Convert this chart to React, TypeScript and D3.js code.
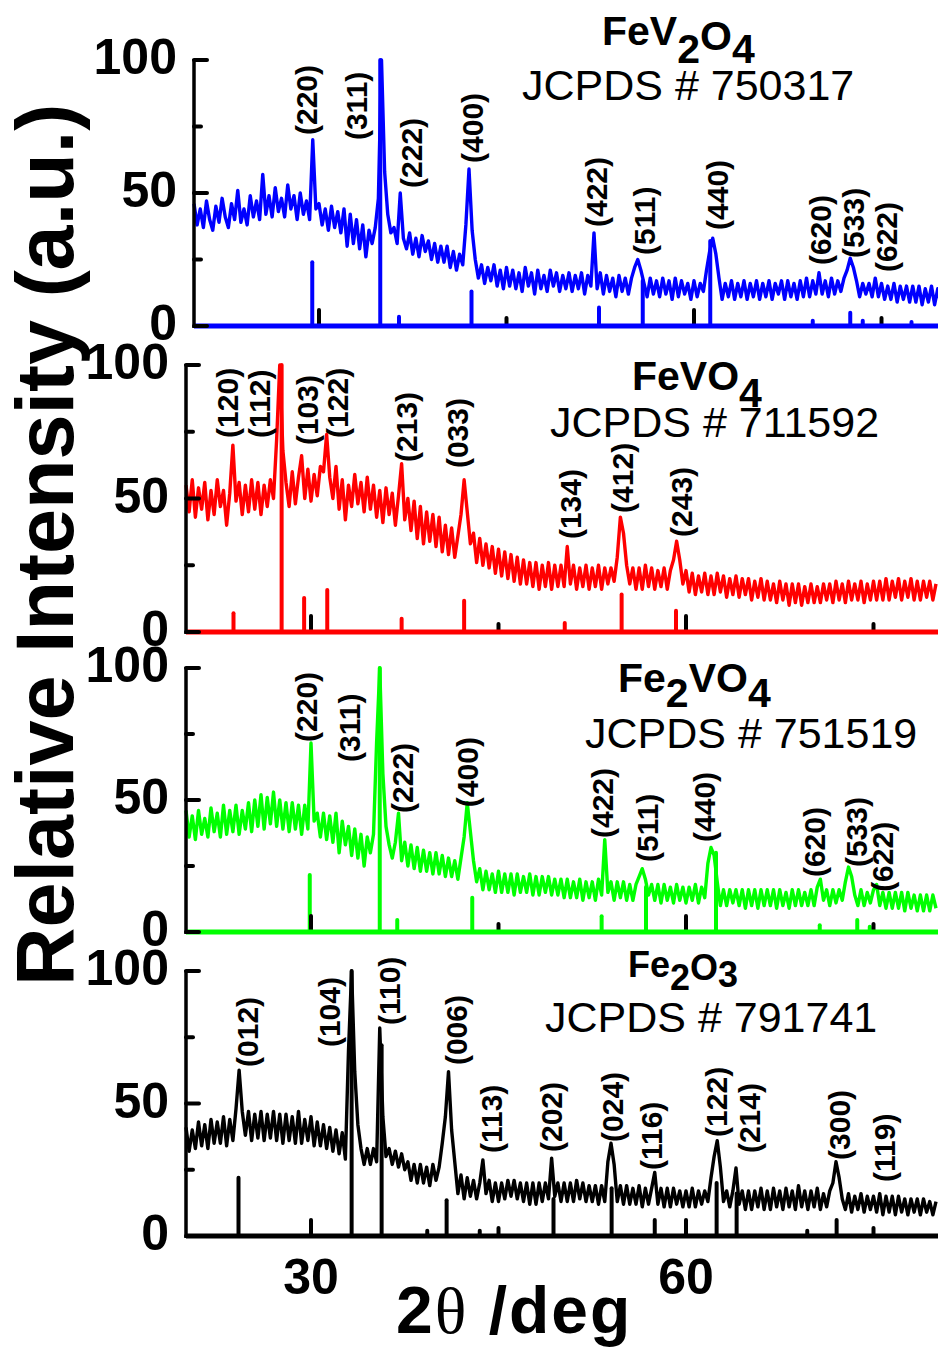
import React from 'react';
import * as d3 from 'd3';

// Diffraction scans sampled every 0.25° from 2θ = 20° to 80° (241 points each)
const SCAN_START = 20;
const SCAN_STEP = 0.25;

const fev2o4Counts = [
  46, 38, 44, 37, 47, 40, 36, 45, 39, 48, 41, 37, 46, 40, 51, 39, 44, 38, 49, 41,
  47, 40, 57, 42, 49, 41, 52, 43, 48, 41, 53, 44, 49, 40, 50, 42, 47, 40, 70, 44,
  46, 38, 44, 36, 45, 37, 43, 35, 44, 30, 42, 31, 40, 29, 38, 26, 36, 31, 37, 48,
  100, 58, 42, 35, 37, 31, 50, 33, 29, 35, 27, 33, 26, 34, 28, 32, 25, 31, 24, 30,
  24, 30, 22, 28, 21, 27, 23, 38, 59, 36, 25, 18, 23, 16, 22, 17, 23, 15, 21, 14,
  22, 15, 21, 14, 20, 13, 22, 15, 20, 12, 21, 14, 19, 13, 21, 15, 20, 13, 19, 14,
  20, 13, 19, 14, 20, 12, 19, 15, 35, 14, 20, 12, 19, 13, 18, 11, 19, 13, 18, 12,
  18, 22, 25, 21, 16, 11, 18, 12, 17, 11, 18, 12, 17, 10, 18, 11, 17, 12, 16, 10,
  17, 11, 16, 13, 21, 28, 33, 27, 18, 10, 16, 11, 17, 10, 16, 11, 17, 10, 16, 11,
  17, 10, 16, 11, 17, 10, 16, 12, 17, 10, 17, 11, 16, 10, 17, 11, 18, 11, 17, 12,
  20, 12, 17, 11, 18, 12, 17, 13, 18, 21, 25.5, 22, 17, 11, 16, 12, 16, 11, 18, 11,
  16, 10, 15, 10, 16, 9, 15, 10, 15, 9, 15, 9, 15, 8, 14, 9, 15, 8, 14, 8,
  13,
];

const fevo4Counts = [
  55, 45, 57, 43, 54, 46, 56, 42, 53, 44, 57, 47, 53, 40, 52, 70, 49, 56, 44, 55,
  45, 57, 46, 56, 44, 55, 47, 57, 50, 72, 100, 68, 56, 47, 60, 48, 58, 66, 50, 61,
  49, 59, 51, 62, 60, 74, 58, 50, 62, 46, 57, 42, 55, 47, 59, 48, 56, 45, 58, 46,
  55, 43, 53, 41, 54, 44, 52, 40, 51, 63, 42, 50, 38, 49, 35, 47, 33, 45, 34, 44,
  32, 43, 30, 40, 29, 39, 28, 36, 44, 57, 45, 33, 37, 26, 35, 25, 33, 24, 32, 22,
  31, 21, 30, 20, 29, 19, 28, 18, 27, 18, 26, 17, 26, 16, 25, 17, 26, 16, 25, 17,
  25, 17, 32, 18, 25, 16, 24, 17, 25, 16, 24, 17, 25, 16, 24, 18, 24, 19, 28, 43,
  37, 25, 18, 24, 16, 24, 16, 25, 17, 24, 16, 23, 17, 24, 16, 23, 27, 34, 27, 18,
  23, 15, 22, 14, 21, 15, 22, 14, 21, 14, 22, 15, 21, 13, 20, 14, 21, 13, 20, 14,
  20, 12, 19, 13, 20, 12, 19, 12, 18, 11, 19, 12, 18, 10, 18, 11, 18, 10, 17, 11,
  18, 11, 17, 11, 18, 12, 18, 11, 19, 12, 18, 11, 19, 12, 18, 12, 19, 11, 18, 12,
  19, 12, 19, 12, 20, 12, 19, 13, 20, 12, 19, 13, 20, 12, 19, 12, 19, 13, 19, 12,
  18,
];

const fe2vo4Counts = [
  46, 36, 44, 35, 46, 37, 43, 36, 47, 38, 45, 36, 48, 37, 46, 38, 48, 37, 46, 39,
  49, 38, 50, 40, 52, 39, 51, 41, 53, 40, 50, 39, 49, 38, 49, 39, 48, 37, 48, 39,
  71.6, 42, 45, 36, 45, 35, 44, 34, 45, 30, 42, 33, 40, 29, 39, 28, 37, 25, 36, 30,
  37, 72, 100, 60, 40, 33, 28, 34, 45, 27, 34, 25, 33, 24, 32, 23, 31, 23, 30, 22,
  30, 22, 29, 21, 28, 21, 27, 20, 28, 36, 49, 38, 27, 19, 24, 16, 23, 16, 22, 15,
  23, 15, 22, 15, 22, 14, 22, 15, 21, 15, 22, 14, 21, 14, 21, 15, 21, 14, 20, 14,
  20, 13, 20, 13, 19, 13, 20, 12, 19, 13, 19, 12, 20, 14, 35, 15, 19, 12, 19, 13,
  19, 12, 18, 12, 18, 21, 24, 20, 14, 18, 12, 18, 11, 18, 12, 17, 11, 18, 12, 17,
  11, 17, 12, 18, 11, 17, 13, 26, 32, 29, 19, 10, 16, 10, 16, 11, 16, 10, 16, 9,
  16, 10, 16, 9, 16, 10, 16, 10, 16, 9, 16, 10, 15, 9, 16, 10, 16, 10, 15, 10,
  16, 10, 17, 20, 12, 16, 10, 16, 11, 16, 12, 19, 24.6, 21, 14, 10, 16, 10, 15, 11,
  16, 18, 10, 15, 9, 15, 9, 15, 9, 15, 8, 15, 9, 14, 8, 14, 8, 14, 8, 14,
  9,
];

const fe2o3Counts = [
  41, 32, 40, 33, 43, 34, 42, 33, 44, 35, 43, 35, 45, 34, 44, 36, 48, 62.6, 47, 38,
  47, 36, 46, 37, 47, 36, 46, 37, 47, 36, 46, 35, 46, 36, 45, 35, 47, 35, 44, 36,
  45, 34, 43, 34, 42, 33, 41, 32, 40, 31, 39, 29, 70, 100, 62, 42, 33, 27, 33, 27,
  33, 28, 78.5, 45, 30, 33, 27, 32, 26, 31, 25, 28, 21, 27, 20, 27, 20, 26, 19, 27,
  21, 26, 35, 45, 62, 40, 28, 16, 23, 14, 22, 15, 21, 14, 20, 28.7, 16, 21, 13, 20,
  13, 20, 14, 21, 15, 21, 14, 20, 13, 20, 12, 20, 12, 20, 13, 20, 14, 29.4, 15, 20,
  13, 20, 13, 20, 13, 21, 14, 20, 13, 19, 13, 19, 12, 19, 13, 28, 35, 27, 13, 19,
  12, 19, 12, 18, 12, 19, 11, 18, 12, 18, 24, 12, 18, 11, 18, 11, 18, 12, 17, 11,
  17, 11, 18, 11, 17, 12, 17, 13, 22, 30, 36, 26, 13, 17, 11, 17, 25.7, 12, 17, 10,
  17, 10, 17, 11, 18, 10, 17, 10, 18, 11, 17, 10, 18, 11, 17, 10, 19, 11, 17, 10,
  17, 11, 18, 10, 16, 11, 17, 20, 28, 22, 14, 10, 16, 9, 15, 10, 16, 9, 15, 10,
  15, 9, 16, 8, 15, 9, 15, 8, 15, 9, 14, 8, 14, 9, 14, 8, 14, 9, 13, 8,
  13,
];

// Reference card lines: [2θ, relative intensity]
const fev2o4Card = [[29.46, 24], [34.9, 100], [36.4, 3.5], [42.2, 13], [52.4, 7], [55.9, 17], [61.3, 32], [69.5, 2], [72.5, 5], [73.5, 2], [77.4, 1.5]];
const fevo4Card = [[23.8, 7], [27.65, 100], [29.45, 12.7], [31.3, 15.7], [37.25, 5], [42.25, 11.7], [50.3, 3.4], [54.85, 14], [59.2, 8]];
const fe2vo4Card = [[29.9, 21.6], [35.5, 100], [36.9, 4.5], [42.9, 13], [53.25, 6], [56.8, 17], [62.4, 30], [70.7, 2.6], [73.7, 4.5], [74.7, 2]];
const fe2o3Card = [[24.2, 22], [33.25, 100], [35.65, 72], [39.3, 2], [40.85, 13.5], [43.5, 2], [49.4, 14], [54.05, 18], [57.5, 6], [62.45, 20], [64.05, 16], [69.7, 2], [72.05, 6]];

// Miller indices: [label, 2θ, intensity level where the label starts]
const fev2o4Hkl = [['(220)', 29.0, 71.8], ['(311)', 32.96, 69.9], ['(222)', 37.36, 51.9], ['(400)', 42.28, 61.3], ['(422)', 52.16, 37.2], ['(511)', 56.0, 26.7], ['(440)', 61.88, 36.1], ['(620)', 70.08, 22.9], ['(533)', 72.72, 25.6], ['(622)', 75.36, 20.3]];
const fevo4Hkl = [['(120)', 23.32, 72.7], ['(112)', 25.84, 72.7], ['(103)', 29.72, 70.0], ['(122)', 32.12, 72.7], ['(213)', 37.6, 63.7], ['(033)', 41.72, 61.4], ['(134)', 50.72, 34.8], ['(412)', 54.92, 44.6], ['(243)', 59.6, 35.6]];
const fe2vo4Hkl = [['(220)', 29.6, 72.0], ['(311)', 33.04, 64.4], ['(222)', 37.32, 45.1], ['(400)', 42.52, 47.3], ['(422)', 53.32, 35.6], ['(511)', 56.92, 26.5], ['(440)', 61.44, 34.1], ['(620)', 70.24, 20.8], ['(533)', 73.6, 24.6], ['(622)', 75.72, 15.2]];
const fe2o3Hkl = [['(012)', 24.92, 63.8], ['(104)', 31.44, 71.3], ['(110)', 36.24, 79.6], ['(006)', 41.6, 64.5], ['(113)', 44.4, 31.3], ['(202)', 49.2, 31.7], ['(024)', 54.12, 35.5], ['(116)', 57.2, 24.9], ['(122)', 62.4, 37.4], ['(214)', 65.04, 31.3], ['(300)', 72.24, 28.7], ['(119)', 75.84, 20.4]];

const yTickValues = [0, 25, 50, 75, 100];
const yTickLabels = ['0', '50', '100'];
const xTickValues = [30, 45, 60, 75];
const xTickLabels = ['30', '60'];

const SANS = "'Liberation Sans', Arial, Helvetica, sans-serif";
const SERIF = "'Liberation Serif', 'Times New Roman', serif";

const panels = [
  {
    id: 'fev2o4', color: '#0000ff', counts: fev2o4Counts, card: fev2o4Card, hkl: fev2o4Hkl,
    formula: [['FeV', 0], ['2', 18], ['O', 5], ['4', 18]], formulaX: 602, formulaY: 45, formulaSize: 41,
    jcpds: 'JCPDS # 750317', jcpdsX: 522, jcpdsY: 100,
    y0: 326, y100: 60, dx: 8,
  },
  {
    id: 'fevo4', color: '#ff0000', counts: fevo4Counts, card: fevo4Card, hkl: fevo4Hkl,
    formula: [['FeVO', 0], ['4', 17]], formulaX: 632, formulaY: 390, formulaSize: 41,
    jcpds: 'JCPDS # 711592', jcpdsX: 550, jcpdsY: 437,
    y0: 632, y100: 365, dx: 0,
  },
  {
    id: 'fe2vo4', color: '#00ff00', counts: fe2vo4Counts, card: fe2vo4Card, hkl: fe2vo4Hkl,
    formula: [['Fe', 0], ['2', 15], ['VO', 0], ['4', 15]], formulaX: 618, formulaY: 692, formulaSize: 41,
    jcpds: 'JCPDS # 751519', jcpdsX: 585, jcpdsY: 748,
    y0: 932, y100: 668, dx: 0,
  },
  {
    id: 'fe2o3', color: '#000000', counts: fe2o3Counts, card: fe2o3Card, hkl: fe2o3Hkl,
    formula: [['Fe', 0], ['2', 13], ['O', 3], ['3', 10]], formulaX: 628, formulaY: 977, formulaSize: 36,
    jcpds: 'JCPDS # 791741', jcpdsX: 545, jcpdsY: 1032,
    y0: 1236, y100: 971, dx: 0,
  },
];

const W = 938;
const H = 1355;

function makeX(dx: number) {
  return d3.scaleLinear().domain([20, 80]).range([186 + dx, 936 + dx]);
}

function Panel({ p }: { p: any }) {
  const x = makeX(p.dx);
  const y = d3.scaleLinear().domain([0, 100]).range([p.y0, p.y100]);
  const pts: [number, number][] = p.counts.map((v: number, i: number) => [SCAN_START + i * SCAN_STEP, v]);
  const line = d3.line<[number, number]>().x((d) => x(d[0])).y((d) => y(d[1]));
  const ax = x(20);

  return (
    <g>
      <path d={line(pts) || ''} fill="none" stroke={p.color} strokeWidth={3.4} strokeLinejoin="round" />
      {p.card.map(([t, h]: number[], i: number) => (
        <line key={'c' + i} x1={x(t)} x2={x(t)} y1={y(0)} y2={y(h)} stroke={p.color} strokeWidth={4} strokeLinecap="round" />
      ))}
      {xTickValues.map((t) => (
        <line key={'xt' + t} x1={x(t)} x2={x(t)} y1={y(0)} y2={y(0) - (t % 30 === 0 ? 16 : 8)} stroke="#000" strokeWidth={4} strokeLinecap="round" />
      ))}
      <line x1={ax} x2={W} y1={y(0)} y2={y(0)} stroke={p.color} strokeWidth={5} />
      <line x1={ax} x2={ax} y1={y(100) - 1} y2={y(0) + 2} stroke="#000" strokeWidth={3.5} />
      {yTickValues.map((v) => (
        <line key={'yt' + v} x1={ax} x2={ax + (v % 50 === 0 ? 13 : 7)} y1={y(v)} y2={y(v)} stroke="#000" strokeWidth={4} strokeLinecap="round" />
      ))}
      {yTickLabels.map((s) => (
        <text key={'yl' + s} x={ax - 17} y={y(+s) + 14} textAnchor="end" fontSize={50} fontWeight="bold" fontFamily={SANS}>{s}</text>
      ))}
      {p.hkl.map(([s, t, v]: any[], i: number) => (
        <text key={'h' + i} transform={`translate(${x(t)},${y(v)}) rotate(-90)`} dy="0.36em" fontSize={30} fontWeight="bold" fontFamily={SANS}>{s}</text>
      ))}
      <text x={p.formulaX} y={p.formulaY} fontSize={p.formulaSize} fontWeight="bold" fontFamily={SANS}>
        {p.formula.map(([s, off]: any[], i: number) => (
          <tspan key={i} y={p.formulaY + off}>{s}</tspan>
        ))}
      </text>
      <text x={p.jcpdsX} y={p.jcpdsY} fontSize={43} fontFamily={SANS}>{p.jcpds}</text>
    </g>
  );
}

export default function App() {
  const xBottom = makeX(0);
  return (
    <svg width={W} height={H} viewBox={`0 0 ${W} ${H}`} style={{ position: 'absolute', left: 0, top: 0, background: '#fff' }}>
      <rect width={W} height={H} fill="#fff" />
      {panels.map((p) => (
        <Panel key={p.id} p={p} />
      ))}
      {xTickLabels.map((s) => (
        <text key={s} x={xBottom(+s)} y={1294} textAnchor="middle" fontSize={50} fontWeight="bold" fontFamily={SANS}>{s}</text>
      ))}
      <text x={396} y={1333} fontSize={66} fontWeight="bold" fontFamily={SANS} letterSpacing={2}>
        <tspan>2</tspan>
        <tspan fontFamily={SERIF} fontWeight="normal">θ</tspan>
        <tspan> /deg</tspan>
      </text>
      <text transform="translate(73,545) rotate(-90)" textAnchor="middle" fontSize={81} fontWeight="bold" fontFamily={SANS}>
        Relative Intensity (a.u.)
      </text>
    </svg>
  );
}
